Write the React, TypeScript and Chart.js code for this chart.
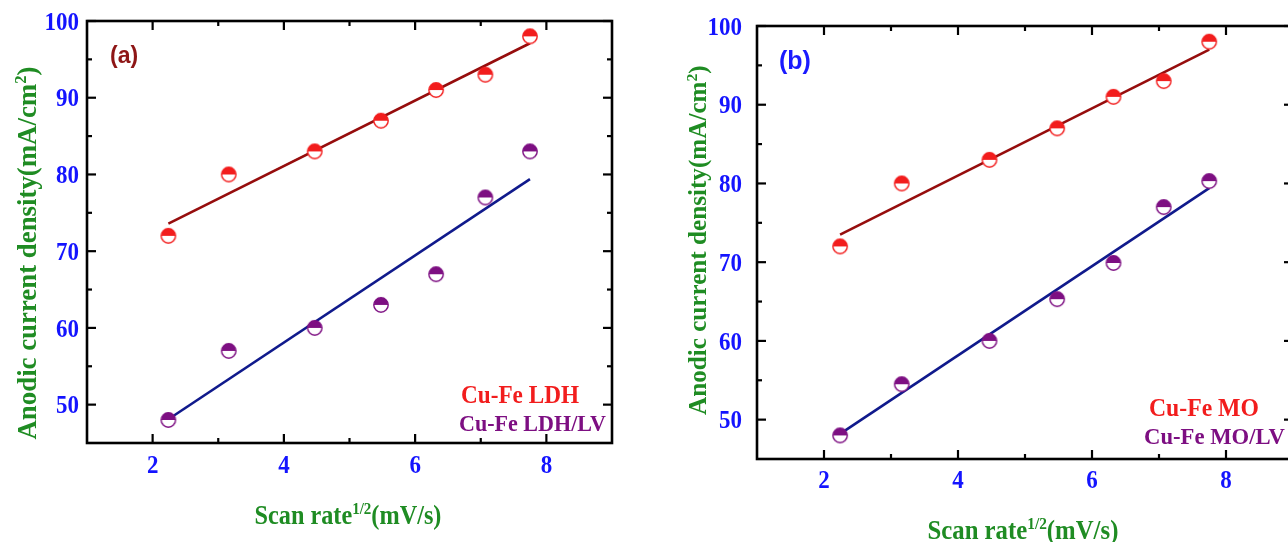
import React, { useEffect, useRef } from "react";
import { Chart, registerables } from "chart.js";

Chart.register(...registerables);

// ---------- data ----------
const scanRateSqrt = [2.24, 3.16, 4.47, 5.48, 6.32, 7.07, 7.75];
const ldh = [72, 80, 83, 87, 91, 93, 98];
const ldhLV = [48, 57, 60, 63, 67, 77, 83];
const mo = [72, 80, 83, 87, 91, 93, 98];
const moLV = [48, 54.5, 60, 65.3, 69.9, 77, 80.3];
const fitX = [2.24, 7.75];
const ldhFit = [73.6, 97.1];
const ldhLVFit = [48.1, 79.4];
const moFit = [73.5, 97.0];
const moLVFit = [48.2, 79.4];
const xTicks = [2, 4, 6, 8];
const xMinorTicks = [3, 5, 7];
const yTicks = [50, 60, 70, 80, 90, 100];
const yMinorTicks = [55, 65, 75, 85, 95];
const xTickLabels = ["2", "4", "6", "8"];
const yTickLabels = ["50", "60", "70", "80", "90", "100"];

const SERIF = "'Liberation Serif', 'Times New Roman', serif";
const SANS = "'Liberation Sans', Arial, sans-serif";
const RED = "#f21d1d";
const PURPLE = "#7d0f82";
const FIT_RED = "#960d0d";
const FIT_BLUE = "#101a8c";
const TICK_BLUE = "#1414ff";
const GREEN = "#1f8c23";

type Seg = { t: string; sup?: boolean };

function marker(color: string) {
  const c = document.createElement("canvas");
  c.width = 18;
  c.height = 18;
  const g = c.getContext("2d")!;
  const r = 7.2;
  g.beginPath();
  g.arc(9, 9, r, 0, Math.PI * 2);
  g.fillStyle = "#fff";
  g.fill();
  g.beginPath();
  g.arc(9, 9, r, Math.PI, 0);
  g.closePath();
  g.fillStyle = color;
  g.fill();
  g.beginPath();
  g.arc(9, 9, r, 0, Math.PI * 2);
  g.lineWidth = 1.4;
  g.strokeStyle = color;
  g.stroke();
  return c;
}

function richWidth(ctx: CanvasRenderingContext2D, segs: Seg[], size: number, family: string) {
  let w = 0;
  for (const s of segs) {
    ctx.font = `bold ${s.sup ? size * 0.62 : size}px ${family}`;
    w += ctx.measureText(s.t).width;
  }
  return w;
}

// draws text whose centre is (cx, cy), fitted to a width
function drawRich(
  ctx: CanvasRenderingContext2D,
  segs: Seg[],
  cx: number,
  cy: number,
  targetW: number,
  family: string,
  color: string,
  rot = 0,
  align: "center" | "left" = "center",
  stretch = 1
) {
  const base = 24;
  const size = (base * targetW) / richWidth(ctx, segs, base, family);
  ctx.save();
  ctx.translate(cx, cy);
  ctx.rotate(rot);
  ctx.scale(1, stretch);
  ctx.fillStyle = color;
  ctx.textAlign = "left";
  ctx.textBaseline = "alphabetic";
  let x = align === "center" ? -targetW / 2 : 0;
  for (const s of segs) {
    const fs = s.sup ? size * 0.62 : size;
    ctx.font = `bold ${fs}px ${family}`;
    const dy = s.sup ? -size * 0.36 : 0;
    ctx.fillText(s.t, x, size * 0.33 + dy);
    x += ctx.measureText(s.t).width;
  }
  ctx.restore();
}

type PanelCfg = {
  label: string;
  labelColor: string;
  labelSize: number;
  labelX: number;
  labelY: number;
  legend: { text: string; color: string; x: number; y: number; w: number }[];
  xLabelY: number;
  yLabelRight: number;
  xTitle: { cx: number; cy: number; w: number };
  yTitle: { cx: number; cy: number; w: number };
  tickSize: number;
};

function decorPlugin(p: PanelCfg) {
  return {
    id: "decor",
    afterDraw(chart: any) {
      const ctx: CanvasRenderingContext2D = chart.ctx;
      const { left, right, top, bottom } = chart.chartArea;
      const xs = chart.scales.x;
      const ys = chart.scales.y;
      ctx.save();
      // frame
      ctx.strokeStyle = "#000";
      ctx.lineWidth = 2.6;
      ctx.strokeRect(left, top, right - left, bottom - top);
      // ticks
      ctx.lineWidth = 2.2;
      const tick = (x1: number, y1: number, x2: number, y2: number) => {
        ctx.beginPath();
        ctx.moveTo(x1, y1);
        ctx.lineTo(x2, y2);
        ctx.stroke();
      };
      const MAJ = 9;
      const MIN = 5;
      for (const v of xTicks) {
        const px = xs.getPixelForValue(v);
        tick(px, bottom, px, bottom - MAJ);
        tick(px, top, px, top + MAJ);
      }
      for (const v of xMinorTicks) {
        const px = xs.getPixelForValue(v);
        tick(px, bottom, px, bottom - MIN);
        tick(px, top, px, top + MIN);
      }
      for (const v of yTicks) {
        const py = ys.getPixelForValue(v);
        tick(left, py, left + MAJ, py);
        tick(right, py, right - MAJ, py);
      }
      for (const v of yMinorTicks) {
        const py = ys.getPixelForValue(v);
        tick(left, py, left + MIN, py);
        tick(right, py, right - MIN, py);
      }
      // tick labels (slightly tall glyphs, as in the source figure)
      const S = 1.1;
      const lbl = (t: string, x: number, cy: number, align: CanvasTextAlign) => {
        ctx.save();
        ctx.translate(x, cy);
        ctx.scale(1, S);
        ctx.fillStyle = TICK_BLUE;
        ctx.font = `bold ${p.tickSize}px ${SERIF}`;
        ctx.textBaseline = "alphabetic";
        ctx.textAlign = align;
        ctx.fillText(t, 0, p.tickSize * 0.34);
        ctx.restore();
      };
      xTicks.forEach((v, i) => lbl(xTickLabels[i], xs.getPixelForValue(v), p.xLabelY, "center"));
      yTicks.forEach((v, i) => lbl(yTickLabels[i], p.yLabelRight, ys.getPixelForValue(v), "right"));
      // axis titles
      drawRich(
        ctx,
        [{ t: "Scan rate" }, { t: "1/2", sup: true }, { t: "(mV/s)" }],
        p.xTitle.cx,
        p.xTitle.cy,
        p.xTitle.w,
        SERIF,
        GREEN,
        0,
        "center",
        1.1
      );
      drawRich(
        ctx,
        [{ t: "Anodic current density(mA/cm" }, { t: "2", sup: true }, { t: ")" }],
        p.yTitle.cx,
        p.yTitle.cy,
        p.yTitle.w,
        SERIF,
        GREEN,
        -Math.PI / 2
      );
      // panel label
      ctx.fillStyle = p.labelColor;
      ctx.font = `bold ${p.labelSize}px ${SANS}`;
      ctx.textAlign = "left";
      ctx.textBaseline = "middle";
      ctx.fillText(p.label, p.labelX, p.labelY);
      // legend texts
      for (const l of p.legend) {
        drawRich(ctx, [{ t: l.text }], l.x, l.y, l.w, SERIF, l.color, 0, "left", 1.05);
      }
      ctx.restore();
    },
  };
}

function pts(xs: number[], ys: number[]) {
  return xs.map((x, i) => ({ x, y: ys[i] }));
}

function makeChart(
  canvas: HTMLCanvasElement,
  redY: number[],
  purpleY: number[],
  redFit: number[],
  purpleFit: number[],
  padding: { left: number; top: number; right: number; bottom: number },
  panel: PanelCfg
) {
  return new Chart(canvas, {
    type: "scatter",
    data: {
      datasets: [
        {
          data: pts(fitX, redFit),
          showLine: true,
          borderColor: FIT_RED,
          borderWidth: 2.6,
          pointRadius: 0,
          order: 2,
        },
        {
          data: pts(fitX, purpleFit),
          showLine: true,
          borderColor: FIT_BLUE,
          borderWidth: 2.6,
          pointRadius: 0,
          order: 2,
        },
        {
          data: pts(scanRateSqrt, redY),
          pointStyle: marker(RED) as any,
          pointRadius: 8,
          order: 1,
        },
        {
          data: pts(scanRateSqrt, purpleY),
          pointStyle: marker(PURPLE) as any,
          pointRadius: 8,
          order: 1,
        },
      ],
    },
    options: {
      responsive: false,
      animation: false,
      devicePixelRatio: 1,
      layout: { padding, autoPadding: false } as any,
      plugins: { legend: { display: false }, tooltip: { enabled: false } },
      scales: {
        x: { type: "linear", min: 1, max: 9, display: false },
        y: { type: "linear", min: 45, max: 100, display: false },
      },
    },
    plugins: [decorPlugin(panel)],
  } as any);
}

export default function App() {
  const refA = useRef<HTMLCanvasElement>(null);
  const refB = useRef<HTMLCanvasElement>(null);

  useEffect(() => {
    const a = makeChart(
      refA.current!,
      ldh,
      ldhLV,
      ldhFit,
      ldhLVFit,
      { left: 87, top: 21, right: 28, bottom: 99 },
      {
        label: "(a)",
        labelColor: "#8e1616",
        labelSize: 23,
        labelX: 110,
        labelY: 57,
        legend: [
          { text: "Cu-Fe LDH", color: RED, x: 461, y: 395, w: 118 },
          { text: "Cu-Fe LDH/LV", color: PURPLE, x: 459, y: 423, w: 147 },
        ],
        xLabelY: 464,
        yLabelRight: 79,
        xTitle: { cx: 348, cy: 515, w: 187 },
        yTitle: { cx: 27, cy: 253, w: 373 },
        tickSize: 23,
      }
    );
    const b = makeChart(
      refB.current!,
      mo,
      moLV,
      moFit,
      moLVFit,
      { left: 117, top: 26, right: 7, bottom: 83 },
      {
        label: "(b)",
        labelColor: "#1a1aff",
        labelSize: 25,
        labelX: 139,
        labelY: 62,
        legend: [
          { text: "Cu-Fe MO", color: RED, x: 509, y: 408, w: 110 },
          { text: "Cu-Fe MO/LV", color: PURPLE, x: 504, y: 436, w: 141 },
        ],
        xLabelY: 479,
        yLabelRight: 102,
        xTitle: { cx: 383, cy: 530, w: 191 },
        yTitle: { cx: 58, cy: 240, w: 350 },
        tickSize: 23,
      }
    );
    return () => {
      a.destroy();
      b.destroy();
    };
  }, []);

  return (
    <div
      style={{
        position: "fixed",
        left: 0,
        top: 0,
        width: 1288,
        height: 542,
        overflow: "hidden",
        background: "#fff",
      }}
    >
      <canvas
        ref={refA}
        width={640}
        height={542}
        style={{ position: "absolute", left: 0, top: 0, width: 640, height: 542 }}
      />
      <canvas
        ref={refB}
        width={660}
        height={542}
        style={{ position: "absolute", left: 640, top: 0, width: 660, height: 542 }}
      />
    </div>
  );
}
